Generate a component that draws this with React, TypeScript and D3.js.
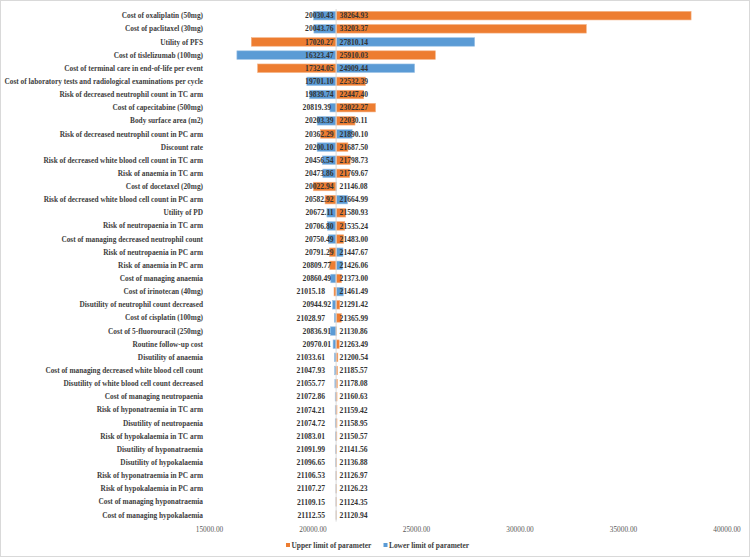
import React from "react";
import * as d3 from "d3";

const categories = [
  "Cost of oxaliplatin (50mg)",
  "Cost of paclitaxel (30mg)",
  "Utility of PFS",
  "Cost of tislelizumab (100mg)",
  "Cost of terminal care in end-of-life per event",
  "Cost of laboratory tests and radiological examinations per cycle",
  "Risk of decreased neutrophil count in TC arm",
  "Cost of capecitabine (500mg)",
  "Body surface area (m2)",
  "Risk of decreased neutrophil count in PC arm",
  "Discount rate",
  "Risk of decreased white blood cell count in TC arm",
  "Risk of anaemia in TC arm",
  "Cost of docetaxel (20mg)",
  "Risk of decreased white blood cell count in PC arm",
  "Utility of PD",
  "Risk of neutropaenia in TC arm",
  "Cost of managing decreased neutrophil count",
  "Risk of neutropaenia in PC arm",
  "Risk of anaemia in PC arm",
  "Cost of managing anaemia",
  "Cost of irinotecan (40mg)",
  "Disutility of neutrophil count decreased",
  "Cost of cisplatin (100mg)",
  "Cost of 5-fluorouracil (250mg)",
  "Routine follow-up cost",
  "Disutility of anaemia",
  "Cost of managing decreased white blood cell count",
  "Disutility of white blood cell count decreased",
  "Cost of managing neutropaenia",
  "Risk of hyponatraemia in TC arm",
  "Disutility of neutropaenia",
  "Risk of hypokalaemia in TC arm",
  "Disutility of hyponatraemia",
  "Disutility of hypokalaemia",
  "Risk of hyponatraemia in PC arm",
  "Risk of hypokalaemia in PC arm",
  "Cost of managing hyponatraemia",
  "Cost of managing hypokalaemia",
];

const lowerLimitICER = [
  20030.43, 20043.76, 27810.14, 16323.47, 24909.44, 19701.1, 19839.74, 20819.39,
  20203.39, 21890.1, 20200.1, 20456.54, 20473.86, 21146.08, 21664.99, 20672.11,
  20706.8, 20750.49, 21447.67, 21426.06, 20860.49, 21461.49, 20944.92, 21028.97,
  20836.91, 20970.01, 21033.61, 21047.93, 21055.77, 21072.86, 21074.21, 21074.72,
  21083.01, 21091.99, 21096.65, 21106.53, 21107.27, 21109.15, 21112.55,
];

const upperLimitICER = [
  38264.93, 33203.37, 17020.27, 25910.03, 17324.05, 22532.39, 22447.4, 23022.27,
  22030.11, 20362.29, 21687.5, 21798.73, 21769.67, 20022.94, 20582.92, 21580.93,
  21535.24, 21483.0, 20791.29, 20809.77, 21373.0, 21015.18, 21291.42, 21365.99,
  21130.86, 21263.49, 21200.54, 21185.57, 21178.08, 21160.63, 21159.42, 21158.95,
  21150.57, 21141.56, 21136.88, 21126.97, 21126.23, 21124.35, 21120.94,
];

const baseICER = 21116;
const xTicks = [15000, 20000, 25000, 30000, 35000, 40000];
const seriesNames = ["Upper limit of parameter", "Lower limit of parameter"];

const W = 750;
const H = 557;
const ORANGE = "#ED7D31";
const BLUE = "#5B9BD5";
const FONT = "'Liberation Serif', 'Times New Roman', serif";
const TEXT = "#404040";

export default function App() {
  const x = d3.scaleLinear().domain([15000, 40000]).range([209.5, 727]);
  const y = d3
    .scaleBand<string>()
    .domain(categories)
    .range([9.1, 521.6])
    .paddingInner(0.35)
    .paddingOuter(0.175);
  const bw = y.bandwidth();
  const bx = x(baseICER);

  const rows = categories.map((c, i) => ({
    c,
    lo: lowerLimitICER[i],
    up: upperLimitICER[i],
  }));

  const bar = (v: number, fill: string, stroke: string, key: string, yy: number) => {
    const x0 = Math.min(x(v), bx);
    const w = Math.abs(x(v) - bx);
    return (
      <rect
        key={key}
        x={x0}
        y={yy}
        width={w}
        height={bw}
        fill={fill}
        stroke={stroke}
        strokeWidth={0.6}
      />
    );
  };

  return (
    <div style={{ position: "fixed", left: 0, top: 0, width: W, height: H, background: "#fff" }}>
      <svg width={W} height={H} style={{ display: "block" }}>
        <rect x={0.5} y={0.5} width={W - 1} height={H - 1} fill="#fff" stroke="#d9d9d9" />
        {rows.map((r, i) => {
          const yy = y(r.c)!;
          return (
            <g key={i}>
              {bar(r.lo, BLUE, "#9dc3e6", "lo" + i, yy)}
              {bar(r.up, ORANGE, "#f4b183", "up" + i, yy)}
            </g>
          );
        })}
        <line x1={bx} x2={bx} y1={9} y2={521.6} stroke="#d9d9d9" strokeWidth={1} />
        {rows.map((r, i) => (
          <text
            key={"c" + i}
            x={203}
            y={y(r.c)! + bw / 2}
            dy="0.35em"
            textAnchor="end"
            fontFamily={FONT}
            fontWeight="bold"
            fontSize={7.33}
            fill={TEXT}
          >
            {r.c}
          </text>
        ))}
        {rows.map((r, i) => {
          const left = Math.min(r.lo, r.up);
          const right = Math.max(r.lo, r.up);
          const lw = bx - x(left);
          const gap = lw < 3 ? 11 : lw < 6.5 ? 5 : 2.5;
          const cy = y(r.c)! + bw / 2;
          return (
            <g key={"v" + i} fontFamily={FONT} fontWeight="bold" fontSize={7.6} fill="#333">
              <text x={bx - gap} y={cy} dy="0.35em" textAnchor="end">
                {left.toFixed(2)}
              </text>
              <text x={bx + 3.5} y={cy} dy="0.35em" textAnchor="start">
                {right.toFixed(2)}
              </text>
            </g>
          );
        })}
        {xTicks.map((t) => (
          <text
            key={"t" + t}
            x={x(t)}
            y={529}
            dy="0.35em"
            textAnchor="middle"
            fontFamily={FONT}
            fontSize={7.3}
            fill="#595959"
          >
            {t.toFixed(2)}
          </text>
        ))}
        <g fontFamily={FONT} fontSize={7.4} fill={TEXT}>
          <rect x={286} y={543} width={4} height={4} fill={ORANGE} />
          <text x={291.5} y={545} dy="0.35em" fontWeight="bold">
            {seriesNames[0]}
          </text>
          <rect x={383.5} y={543} width={4} height={4} fill={BLUE} />
          <text x={389} y={545} dy="0.35em" fontWeight="bold">
            {seriesNames[1]}
          </text>
        </g>
      </svg>
    </div>
  );
}
